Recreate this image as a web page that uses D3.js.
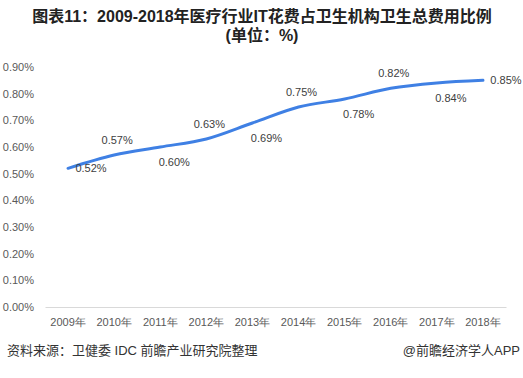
<!DOCTYPE html>
<html>
<head>
<meta charset="utf-8">
<script src="https://cdn.jsdelivr.net/npm/d3@7"></script>
<style>
  body { margin: 0; background: #fff; }
  svg { display: block; font-family: "Liberation Sans", "Noto Sans CJK SC", sans-serif; }
</style>
</head>
<body>
<svg width="523" height="378"></svg>
<script>
const WIDTH = 523;
const HEIGHT = 378;

const years = ['2009年', '2010年', '2011年', '2012年', '2013年', '2014年', '2015年', '2016年', '2017年', '2018年'];
const values = [0.52, 0.57, 0.60, 0.63, 0.69, 0.75, 0.78, 0.82, 0.84, 0.85];
const labelSide = ['right', 'above', 'below', 'above', 'below', 'above', 'below', 'above', 'below', 'right'];
const yTicks = [0, 0.1, 0.2, 0.3, 0.4, 0.5, 0.6, 0.7, 0.8, 0.9];

const margin = { top: 67, right: 17, bottom: 71, left: 45 };

const svg = d3.select('svg');

const xScale = d3.scaleBand()
  .domain(years)
  .range([margin.left, WIDTH - margin.right]);
const yScale = d3.scaleLinear()
  .domain([0, 0.9])
  .range([HEIGHT - margin.bottom, margin.top]);

const cx = d => xScale(d) + xScale.bandwidth() / 2;

// title
const title = svg.append('g')
  .attr('font-weight', 'bold')
  .attr('font-size', 16)
  .attr('fill', '#222')
  .attr('text-anchor', 'middle');
title.append('text').attr('x', 262).attr('y', 22)
  .text('图表11：2009-2018年医疗行业IT花费占卫生机构卫生总费用比例');
title.append('text').attr('x', 262).attr('y', 41).text('(单位：%)');

// y axis
const leftAxis = d3.axisLeft(yScale)
  .tickValues(yTicks)
  .tickSize(0)
  .tickPadding(11)
  .tickFormat(d => d.toFixed(2) + '%');
svg.append('g')
  .attr('transform', `translate(${margin.left}, 0)`)
  .call(leftAxis)
  .call(g => g.select('.domain').remove())
  .selectAll('text')
  .attr('font-size', 11)
  .attr('fill', '#595959');

// x axis
const bottomAxis = d3.axisBottom(xScale).tickSize(0).tickPadding(11);
svg.append('g')
  .attr('transform', `translate(0, ${yScale(0)})`)
  .call(bottomAxis)
  .call(g => g.select('.domain').attr('stroke', '#d9d9d9'))
  .selectAll('text')
  .attr('font-size', 11)
  .attr('fill', '#595959');

// line
const line = d3.line()
  .x((d, i) => cx(years[i]))
  .y(d => yScale(d))
  .curve(d3.curveMonotoneX);
svg.append('path')
  .datum(values)
  .attr('d', line)
  .attr('fill', 'none')
  .attr('stroke', '#3f80e4')
  .attr('stroke-width', 3)
  .attr('stroke-linecap', 'round');

// labels
const offsets = {
  right: { dx: 23, dy: 0 },
  above: { dx: 3, dy: -15 },
  below: { dx: 14, dy: 15 },
};
svg.append('g').selectAll('text')
  .data(values)
  .enter()
  .append('text')
  .attr('x', (d, i) => cx(years[i]) + offsets[labelSide[i]].dx)
  .attr('y', (d, i) => yScale(d) + offsets[labelSide[i]].dy)
  .attr('dy', '0.35em')
  .attr('text-anchor', 'middle')
  .attr('font-size', 11)
  .attr('fill', '#404040')
  .text(d => d.toFixed(2) + '%');

// footer
svg.append('text')
  .attr('x', 7).attr('y', 355)
  .attr('font-size', 13).attr('fill', '#333')
  .text('资料来源：卫健委 IDC 前瞻产业研究院整理');
svg.append('text')
  .attr('x', 520).attr('y', 355)
  .attr('text-anchor', 'end')
  .attr('font-size', 13).attr('fill', '#333')
  .text('@前瞻经济学人APP');
</script>
</body>
</html>
